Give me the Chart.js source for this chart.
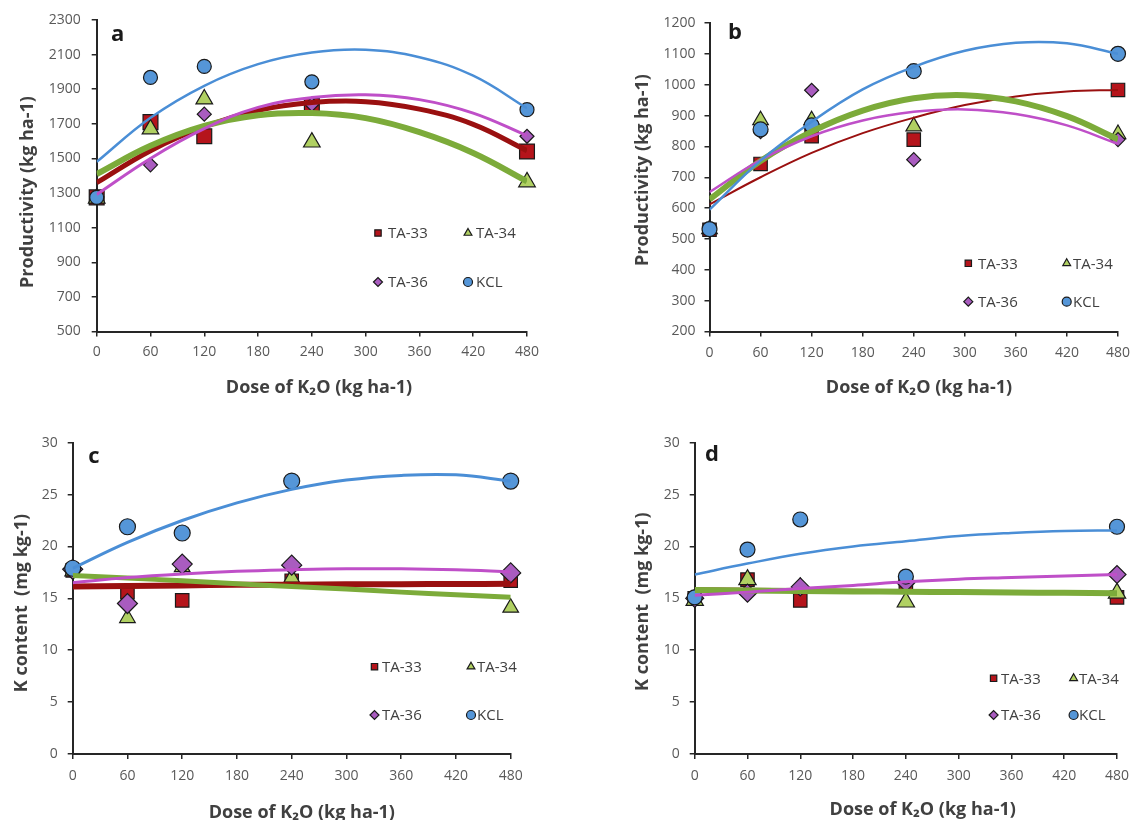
<!DOCTYPE html>
<html>
<head>
<meta charset="utf-8">
<script src="https://cdn.jsdelivr.net/npm/chart.js@4.4.1/dist/chart.umd.min.js"></script>
<style>
  html, body { margin: 0; padding: 0; background: #fff; }
  #wrap { position: relative; width: 1138px; height: 820px; overflow: hidden; background: #fff; }
  canvas { position: absolute; }
</style>
</head>
<body>
<div id="wrap">
  <canvas id="panelA" width="569" height="410" style="left:0;top:0"></canvas>
  <canvas id="panelB" width="569" height="410" style="left:569px;top:0"></canvas>
  <canvas id="panelC" width="569" height="410" style="left:0;top:410px"></canvas>
  <canvas id="panelD" width="569" height="410" style="left:569px;top:410px"></canvas>
</div>
<script>
// doses of K2O where the data were measured, and where the trend lines were read
const DOSES = [0, 60, 120, 240, 480];
const FIT_DOSES = [0, 60, 120, 180, 240, 300, 360, 420, 480];
const SERIES_NAMES = ['TA-33', 'TA-34', 'TA-36', 'KCL'];

// a - productivity, first crop (kg ha-1)
const A_TA33 = [1275, 1710, 1628, 1805, 1540];
const A_TA34 = [1270, 1670, 1843, 1594, 1364];
const A_TA36 = [1278, 1463, 1756, 1812, 1628];
const A_KCL  = [1275, 1968, 2032, 1943, 1782];
const A_TA33_FIT = [1360, 1545, 1683, 1778, 1823, 1828, 1785, 1697, 1545];
const A_TA34_FIT = [1410, 1573, 1688, 1750, 1762, 1733, 1652, 1532, 1368];
const A_TA36_FIT = [1292, 1500, 1672, 1795, 1852, 1868, 1840, 1762, 1632];
const A_KCL_FIT  = [1480, 1735, 1920, 2045, 2112, 2128, 2085, 1978, 1790];

// b - productivity, second crop (kg ha-1)
const B_TA33 = [530, 743, 833, 822, 983];
const B_TA34 = [532, 885, 885, 865, 840];
const B_TA36 = [528, 848, 982, 757, 822];
const B_KCL  = [532, 855, 868, 1044, 1100];
const B_TA33_FIT = [612, 700, 779, 843, 893, 934, 962, 978, 983];
const B_TA34_FIT = [628, 753, 848, 916, 956, 966, 946, 898, 823];
const B_TA36_FIT = [652, 756, 833, 884, 912, 920, 905, 868, 808];
const B_KCL_FIT  = [595, 754, 880, 985, 1058, 1110, 1136, 1134, 1100];

// c - K content (mg kg-1)
const C_TA33 = [17.7, 15.6, 14.8, 16.7, 16.7];
const C_TA34 = [17.6, 13.1, 18.0, 17.0, 14.1];
const C_TA36 = [17.8, 14.5, 18.3, 18.2, 17.45];
const C_KCL  = [17.9, 21.9, 21.3, 26.3, 26.3];
const C_TA33_FIT = [16.15, 16.2, 16.25, 16.3, 16.32, 16.35, 16.37, 16.38, 16.4];
const C_TA34_FIT = [17.2, 16.95, 16.7, 16.4, 16.15, 15.9, 15.6, 15.35, 15.1];
const C_TA36_FIT = [16.5, 17.0, 17.35, 17.6, 17.75, 17.85, 17.85, 17.75, 17.55];
const C_KCL_FIT  = [17.9, 20.4, 22.5, 24.2, 25.5, 26.4, 26.85, 26.9, 26.3];

// d - K content (mg kg-1)
const D_TA33 = [15.0, 16.8, 14.8, 16.4, 15.1];
const D_TA34 = [14.8, 16.8, 16.0, 14.65, 15.5];
const D_TA36 = [15.0, 15.5, 16.1, 16.5, 17.3];
const D_KCL  = [15.1, 19.7, 22.6, 17.1, 21.9];
const D_TA33_FIT = [16.0, 15.95, 15.9, 15.85, 15.8, 15.75, 15.7, 15.65, 15.6];
const D_TA34_FIT = [15.8, 15.75, 15.7, 15.67, 15.63, 15.6, 15.56, 15.53, 15.5];
const D_TA36_FIT = [15.3, 15.6, 15.95, 16.25, 16.6, 16.85, 17.0, 17.15, 17.3];
const D_KCL_FIT  = [17.3, 18.35, 19.3, 20.0, 20.5, 21.0, 21.3, 21.5, 21.55];

const X_TITLE = 'Dose of K\u2082O (kg ha-1)';
const TICK_FONT = { family: '"Open Sans", sans-serif', size: 14 };
const TICK_COLOR = '#595959';
const TITLE_FONT = 'bold 18px "Open Sans", sans-serif';
const TEXT_COLOR = '#404040';
const AXIS_COLOR = '#262626';

const STYLES = [
  { point: 'rect',     fill: '#B5141B', line: '#9A1010' },
  { point: 'triangle', fill: '#B0D062', line: '#7CAB3A' },
  { point: 'rectRot',  fill: '#A95CBF', line: '#BF4FC8' },
  { point: 'circle',   fill: '#5596D8', line: '#4A8ED6' }
];

const PANELS = [
  { id: 'panelA', letter: 'a', yTitle: 'Productivity (kg ha-1)', yMin: 500, yMax: 2300, yStep: 200,
    points: [A_TA33, A_TA34, A_TA36, A_KCL], fits: [A_TA33_FIT, A_TA34_FIT, A_TA36_FIT, A_KCL_FIT],
    box: { w: 96.7, t: 20, r: 42, h: 78.5 }, xPad: 7, yPad: 11,
    radius: [10.5, 9.6, 7, 7], lineWidth: [5, 6, 3, 2.5],
    letterAt: [117.6, 35], yTitleAt: [27.6, 192], xTitleAt: [319, 388],
    legendRows: [233, 282], legendMarkX: [378, 468], legendTextX: [388, 476] },
  { id: 'panelB', letter: 'b', yTitle: 'Productivity (kg ha-1)', yMin: 200, yMax: 1200, yStep: 100,
    points: [B_TA33, B_TA34, B_TA36, B_KCL], fits: [B_TA33_FIT, B_TA34_FIT, B_TA36_FIT, B_KCL_FIT],
    box: { w: 140.5, t: 23, r: 18.5, h: 78.5 }, xPad: 8, yPad: 9,
    radius: [9.5, 9, 7, 7.5], lineWidth: [2, 6, 2.5, 2.5],
    letterAt: [166, 33], yTitleAt: [74, 170], xTitleAt: [350, 388],
    legendRows: [263.3, 301.7], legendMarkX: [399.3, 497.7], legendTextX: [409, 504] },
  { id: 'panelC', letter: 'c', yTitle: 'K content  (mg kg-1)', yMin: 0, yMax: 30, yStep: 5,
    points: [C_TA33, C_TA34, C_TA36, C_KCL], fits: [C_TA33_FIT, C_TA34_FIT, C_TA36_FIT, C_KCL_FIT],
    box: { w: 72.7, t: 32.7, r: 58.3, h: 66 }, xPad: 9, yPad: 10,
    radius: [9.5, 9, 10, 8], lineWidth: [6, 5, 3, 3],
    letterAt: [94, 47], yTitleAt: [21.8, 193], xTitleAt: [301.8, 403],
    legendRows: [256.7, 305], legendMarkX: [374.5, 471], legendTextX: [382, 477] },
  { id: 'panelD', letter: 'd', yTitle: 'K content  (mg kg-1)', yMin: 0, yMax: 30, yStep: 5,
    points: [D_TA33, D_TA34, D_TA36, D_KCL], fits: [D_TA33_FIT, D_TA34_FIT, D_TA36_FIT, D_KCL_FIT],
    box: { w: 125.7, t: 32.7, r: 13.5, h: 66 }, xPad: 9, yPad: 10,
    radius: [9.5, 10, 9, 7.5], lineWidth: [1.5, 6, 3, 2.5],
    letterAt: [143, 45], yTitleAt: [73.7, 191.7], xTitleAt: [353.7, 400],
    legendRows: [268.3, 305], legendMarkX: [424.6, 504.6], legendTextX: [432, 510] }
];

function drawMarker(ctx, style, r, x, y) {
  ctx.fillStyle = style.fill;
  ctx.strokeStyle = '#1a1a1a';
  ctx.lineWidth = 1.2;
  if (Chart.helpers && Chart.helpers.drawPoint) {
    Chart.helpers.drawPoint(ctx, { pointStyle: style.point, radius: r, borderWidth: 1.2, rotation: 0 }, x, y);
    return;
  }
  ctx.beginPath();
  ctx.arc(x, y, r, 0, Math.PI * 2);
  ctx.fill();
  ctx.stroke();
}

// panel letter, axis titles and the 2x2 legend inside the plot
function makeDecor(p) {
  return {
    id: 'decor',
    afterDraw(chart) {
      const ctx = chart.ctx;
      ctx.save();
      ctx.textAlign = 'center';
      ctx.textBaseline = 'middle';
      ctx.fillStyle = '#1a1a1a';
      ctx.font = 'bold 22px "Open Sans", sans-serif';
      ctx.fillText(p.letter, p.letterAt[0], p.letterAt[1]);

      ctx.fillStyle = TEXT_COLOR;
      ctx.font = TITLE_FONT;
      ctx.fillText(X_TITLE, p.xTitleAt[0], p.xTitleAt[1]);
      ctx.save();
      ctx.translate(p.yTitleAt[0], p.yTitleAt[1]);
      ctx.rotate(-Math.PI / 2);
      ctx.fillText(p.yTitle, 0, 0);
      ctx.restore();

      ctx.font = '15px "Open Sans", sans-serif';
      SERIES_NAMES.forEach((name, i) => {
        const row = Math.floor(i / 2), col = i % 2;
        const y = p.legendRows[row];
        drawMarker(ctx, STYLES[i], 4.5, p.legendMarkX[col], y);
        ctx.fillStyle = TEXT_COLOR;
        ctx.textAlign = 'left';
        ctx.fillText(name, p.legendTextX[col], y + 1);
      });
      ctx.restore();
    }
  };
}

function axisCommon() {
  return {
    grid: { display: true, drawOnChartArea: false, drawTicks: true, tickLength: 5, color: AXIS_COLOR, lineWidth: 1.5 },
    border: { display: true, color: AXIS_COLOR, width: 2 }
  };
}

PANELS.forEach(p => {
  const datasets = [];
  p.fits.forEach((fit, i) => {
    datasets.push({
      label: SERIES_NAMES[i] + ' trend',
      data: FIT_DOSES.map((x, k) => ({ x, y: fit[k] })),
      showLine: true,
      borderColor: STYLES[i].line,
      borderWidth: p.lineWidth[i],
      pointRadius: 0,
      tension: 0.4,
      fill: false,
      order: 4 - i
    });
  });
  p.points.forEach((vals, i) => {
    datasets.push({
      label: SERIES_NAMES[i],
      data: DOSES.map((x, k) => ({ x, y: vals[k] })),
      pointStyle: STYLES[i].point,
      pointRadius: p.radius[i],
      backgroundColor: STYLES[i].fill,
      borderColor: '#1a1a1a',
      borderWidth: 1.2,
      clip: false,
      order: 8 - i
    });
  });

  new Chart(document.getElementById(p.id), {
    type: 'scatter',
    data: { datasets },
    options: {
      responsive: false,
      animation: false,
      devicePixelRatio: 1,
      events: [],
      layout: { padding: { left: 0, top: p.box.t, right: p.box.r, bottom: 0 } },
      plugins: { legend: { display: false }, tooltip: { enabled: false } },
      scales: {
        x: {
          type: 'linear', min: 0, max: 480,
          ...axisCommon(),
          ticks: { stepSize: 60, padding: p.xPad, color: TICK_COLOR, font: TICK_FONT, maxRotation: 0, callback: v => String(v) },
          afterFit: s => { s.height = p.box.h; }
        },
        y: {
          type: 'linear', min: p.yMin, max: p.yMax,
          ...axisCommon(),
          ticks: { stepSize: p.yStep, padding: p.yPad, color: TICK_COLOR, font: TICK_FONT, callback: v => String(v) },
          afterFit: s => { s.width = p.box.w; }
        }
      }
    },
    plugins: [makeDecor(p)]
  });
});
</script>
</body>
</html>
